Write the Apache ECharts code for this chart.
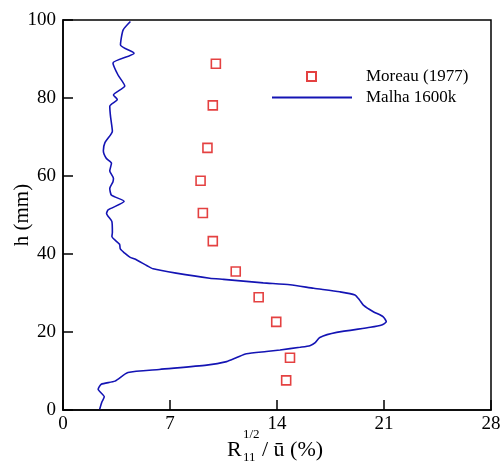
<!DOCTYPE html>
<html>
<head>
<meta charset="utf-8">
<script src="https://cdn.jsdelivr.net/npm/echarts@6/dist/echarts.min.js"></script>
<style>html,body{margin:0;padding:0;background:#fff}#c{width:503px;height:463px}</style>
</head>
<body>
<div id="c"></div>
<script>
// Experimental data: Moreau (1977) [R11^(1/2)/u (%), h (mm)]
const moreauX = [10.0, 9.8, 9.45, 9.0, 9.15, 9.8, 11.3, 12.8, 13.95, 14.85, 14.6];
const moreauY = [88.8, 78.1, 67.2, 58.8, 50.5, 43.3, 35.5, 28.9, 22.6, 13.4, 7.6];

// Simulation: Malha 1600k
const malhaX = [2.4, 2.55, 2.7, 2.3, 2.5, 3.4, 4.25, 6.3, 9.4, 10.7, 11.4, 12.0, 13.3, 14.2, 15.5, 16.15, 16.5, 16.8, 17.9, 20.1, 20.85, 21.15, 20.95, 20.3, 19.65, 19.4, 19.1, 18.1, 16.4, 14.85, 13.1, 10.5, 9.6, 7.4, 5.9, 5.5, 4.7, 4.37, 4.04, 3.75, 3.7, 3.2, 3.23, 3.2, 2.85, 2.95, 4.0, 3.17, 3.06, 3.27, 3.3, 3.06, 3.17, 2.84, 2.64, 2.75, 3.23, 3.17, 3.1, 3.06, 3.55, 3.3, 4.04, 3.6, 3.27, 4.65, 3.76, 3.93, 4.41];
const malhaY = [0.2, 2.1, 3.4, 5.3, 6.6, 7.4, 9.6, 10.4, 11.5, 12.4, 13.5, 14.4, 15.0, 15.4, 16.1, 16.5, 17.3, 18.6, 19.9, 21.2, 21.8, 22.6, 23.9, 25.2, 26.9, 28.2, 29.5, 30.3, 31.2, 32.1, 32.6, 33.5, 33.8, 35.1, 36.2, 37.0, 38.7, 39.2, 40.2, 41.3, 42.5, 44.5, 45.5, 48.3, 50.4, 51.3, 53.5, 55.1, 56.8, 58.5, 59.4, 61.3, 63.3, 64.5, 66.5, 68.6, 71.5, 73.5, 75.6, 77.9, 79.6, 80.8, 83.1, 85.9, 89.0, 91.5, 93.6, 97.4, 99.6];

const xTicks = [0, 7, 14, 21, 28];
const yTicks = [0, 20, 40, 60, 80, 100];

const FONT = '"Liberation Serif", "Times New Roman", serif';
const chart = echarts.init(document.getElementById('c'), null, {renderer: 'canvas'});

const scatterData = moreauX.map((x, i) => [x, moreauY[i]]);
const lineData = malhaX.map((x, i) => [x, malhaY[i]]);

chart.setOption({
  animation: false,
  backgroundColor: '#fff',
  textStyle: {fontFamily: FONT},
  grid: {left: 63, right: 12, top: 20, bottom: 53, show: true, borderColor: '#000', borderWidth: 1.5, containLabel: false, outerBoundsMode: 'none'},
  xAxis: {
    type: 'value', min: xTicks[0], max: xTicks[xTicks.length - 1], interval: 7,
    axisLine: {lineStyle: {color: '#000', width: 1.5}},
    axisTick: {inside: true, length: 10, lineStyle: {color: '#000', width: 1.5}},
    axisLabel: {color: '#000', fontSize: 19, fontFamily: FONT, margin: 5},
    splitLine: {show: false}
  },
  yAxis: {
    type: 'value', min: yTicks[0], max: yTicks[yTicks.length - 1], interval: 20,
    name: 'h (mm)', nameLocation: 'middle', nameGap: 41, nameRotate: 90, nameMoveOverlap: false,
    nameTextStyle: {color: '#000', fontSize: 21, fontFamily: FONT, verticalAlign: 'middle', padding: 0},
    axisLine: {lineStyle: {color: '#000', width: 1.5}},
    axisTick: {inside: true, length: 10, lineStyle: {color: '#000', width: 1.5}},
    axisLabel: {color: '#000', fontSize: 19, fontFamily: FONT, margin: 7},
    splitLine: {show: false}
  },
  legend: [
    {
      data: [{name: 'Moreau (1977)', icon: 'rect'}],
      left: 301, top: 63, itemWidth: 9, itemHeight: 9, align: 'left',
      textStyle: {color: '#000', fontSize: 17, fontFamily: FONT, padding: [0, 0, 0, 45]}
    },
    {
      data: ['Malha 1600k'],
      left: 266, top: 84, itemWidth: 80, itemHeight: 9, align: 'left',
      itemStyle: {color: 'rgba(0,0,0,0)', borderWidth: 0},
      textStyle: {color: '#000', fontSize: 17, fontFamily: FONT, padding: [0, 0, 0, 9]}
    }
  ],
  graphic: [
    {type: 'text', left: 227, top: 439, style: {text: 'R', font: '22px ' + FONT, fill: '#000'}},
    {type: 'text', left: 243, top: 428, style: {text: '1/2', font: '13px ' + FONT, fill: '#000'}},
    {type: 'text', left: 243, top: 451, style: {text: '11', font: '13px ' + FONT, fill: '#000'}},
    {type: 'text', left: 262, top: 439, style: {text: '/ ū (%)', font: '22px ' + FONT, fill: '#000'}}
  ],
  series: [
    {
      name: 'Moreau (1977)', type: 'scatter', data: scatterData,
      symbol: 'rect', symbolSize: 9,
      itemStyle: {color: 'rgba(0,0,0,0)', borderColor: '#dd1111', borderWidth: 1.6}
    },
    {
      name: 'Malha 1600k', type: 'line', data: lineData, showSymbol: false, symbol: 'none',
      smooth: 0.2,
      lineStyle: {color: '#1414b4', width: 1.6},
      itemStyle: {color: '#1414b4'}
    }
  ]
});
</script>
</body>
</html>
